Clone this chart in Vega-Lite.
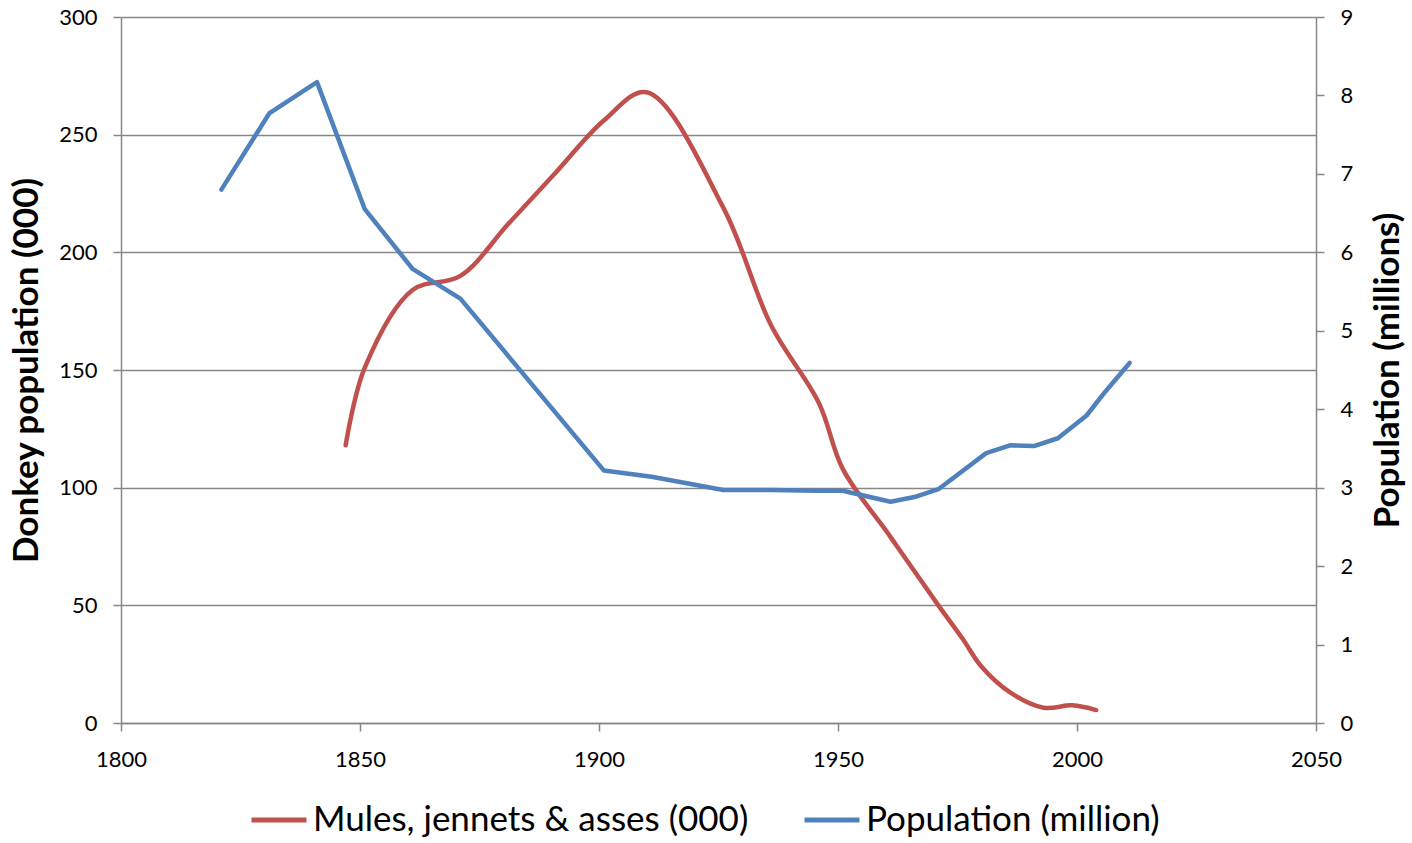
{
  "$schema": "https://vega.github.io/schema/vega-lite/v6.json",
  "autosize": {"type": "none"},
  "width": 1195,
  "height": 706,
  "padding": {"left": 121, "top": 17, "right": 96, "bottom": 120},
  "background": "white",
  "config": {
    "view": {"stroke": null},
    "font": "Lato",
    "axis": {
      "labelFont": "Lato",
      "labelFontSize": 22,
      "labelColor": "#000000",
      "titleFont": "Lato",
      "titleColor": "#000000",
      "domainColor": "#878787",
      "domainWidth": 1.5,
      "tickColor": "#878787",
      "tickWidth": 1.5,
      "tickSize": 8,
      "gridColor": "#878787",
      "gridWidth": 1.5
    },
    "legend": {
      "labelFont": "Lato",
      "labelFontSize": 35,
      "labelColor": "#000000",
      "labelLimit": 0
    }
  },
  "data": {
    "values": [
      {"series": "Mules, jennets & asses (000)", "year": 1847, "value": 118},
      {"series": "Mules, jennets & asses (000)", "year": 1851, "value": 151},
      {"series": "Mules, jennets & asses (000)", "year": 1861, "value": 184},
      {"series": "Mules, jennets & asses (000)", "year": 1871, "value": 190},
      {"series": "Mules, jennets & asses (000)", "year": 1881, "value": 212},
      {"series": "Mules, jennets & asses (000)", "year": 1891, "value": 234},
      {"series": "Mules, jennets & asses (000)", "year": 1901, "value": 256},
      {"series": "Mules, jennets & asses (000)", "year": 1910, "value": 268},
      {"series": "Mules, jennets & asses (000)", "year": 1926, "value": 219},
      {"series": "Mules, jennets & asses (000)", "year": 1936, "value": 169},
      {"series": "Mules, jennets & asses (000)", "year": 1946, "value": 136},
      {"series": "Mules, jennets & asses (000)", "year": 1951, "value": 108},
      {"series": "Mules, jennets & asses (000)", "year": 1961, "value": 79},
      {"series": "Mules, jennets & asses (000)", "year": 1971, "value": 50},
      {"series": "Mules, jennets & asses (000)", "year": 1976, "value": 36},
      {"series": "Mules, jennets & asses (000)", "year": 1980, "value": 24},
      {"series": "Mules, jennets & asses (000)", "year": 1986, "value": 13},
      {"series": "Mules, jennets & asses (000)", "year": 1993, "value": 6.5},
      {"series": "Mules, jennets & asses (000)", "year": 1999, "value": 7.5},
      {"series": "Mules, jennets & asses (000)", "year": 2004, "value": 5.5},
      {"series": "Population (million)", "year": 1821, "value": 6.80},
      {"series": "Population (million)", "year": 1831, "value": 7.77},
      {"series": "Population (million)", "year": 1841, "value": 8.17},
      {"series": "Population (million)", "year": 1851, "value": 6.55},
      {"series": "Population (million)", "year": 1861, "value": 5.79},
      {"series": "Population (million)", "year": 1871, "value": 5.41},
      {"series": "Population (million)", "year": 1901, "value": 3.22},
      {"series": "Population (million)", "year": 1911, "value": 3.14},
      {"series": "Population (million)", "year": 1926, "value": 2.97},
      {"series": "Population (million)", "year": 1936, "value": 2.97},
      {"series": "Population (million)", "year": 1946, "value": 2.96},
      {"series": "Population (million)", "year": 1951, "value": 2.96},
      {"series": "Population (million)", "year": 1961, "value": 2.82},
      {"series": "Population (million)", "year": 1966, "value": 2.88},
      {"series": "Population (million)", "year": 1971, "value": 2.98},
      {"series": "Population (million)", "year": 1981, "value": 3.44},
      {"series": "Population (million)", "year": 1986, "value": 3.54},
      {"series": "Population (million)", "year": 1991, "value": 3.53},
      {"series": "Population (million)", "year": 1996, "value": 3.63},
      {"series": "Population (million)", "year": 2002, "value": 3.92},
      {"series": "Population (million)", "year": 2006, "value": 4.23},
      {"series": "Population (million)", "year": 2011, "value": 4.59}
    ]
  },
  "encoding": {
    "x": {
      "field": "year",
      "type": "quantitative",
      "scale": {"domain": [1800, 2050], "nice": false, "zero": false},
      "axis": {
        "values": [1800, 1850, 1900, 1950, 2000, 2050],
        "format": "d",
        "title": null,
        "grid": false,
        "labelPadding": 18,
        "labelFlush": false
      }
    },
    "color": {
      "field": "series",
      "type": "nominal",
      "scale": {
        "domain": ["Mules, jennets & asses (000)", "Population (million)"],
        "range": ["#C0504D", "#4F81BD"]
      },
      "legend": {
        "title": null,
        "orient": "none",
        "direction": "horizontal",
        "legendX": 128,
        "legendY": 773,
        "padding": 0,
        "symbolType": "stroke",
        "symbolSize": 3025,
        "symbolStrokeWidth": 5,
        "labelOffset": 4,
        "columnPadding": 45,
        "labelLimit": 0
      }
    }
  },
  "layer": [
    {
      "transform": [{"filter": "datum.series === 'Mules, jennets & asses (000)'"}],
      "mark": {"type": "line", "interpolate": "catmull-rom", "strokeWidth": 4.5, "strokeCap": "round", "strokeJoin": "round"},
      "encoding": {
        "y": {
          "field": "value",
          "type": "quantitative",
          "scale": {"domain": [0, 300], "nice": false},
          "axis": {
            "orient": "left",
            "values": [0, 50, 100, 150, 200, 250, 300],
            "title": "Donkey population (000)",
            "titleFontSize": 35,
            "titleFontWeight": "bold",
            "titleAngle": 270,
            "titleX": -95,
            "titleY": 353,
            "titleAlign": "center",
            "titleBaseline": "middle",
            "labelPadding": 16,
            "grid": true
          }
        }
      }
    },
    {
      "transform": [{"filter": "datum.series === 'Population (million)'"}],
      "mark": {"type": "line", "strokeWidth": 4.5, "strokeCap": "round", "strokeJoin": "round"},
      "encoding": {
        "y": {
          "field": "value",
          "type": "quantitative",
          "scale": {"domain": [0, 9], "nice": false},
          "axis": {
            "orient": "right",
            "values": [0, 1, 2, 3, 4, 5, 6, 7, 8, 9],
            "title": "Population (millions)",
            "titleFontSize": 35,
            "titleFontWeight": "bold",
            "titleAngle": 270,
            "titleX": 71,
            "titleY": 353,
            "titleAlign": "center",
            "titleBaseline": "middle",
            "labelPadding": 16,
            "grid": false
          }
        }
      }
    }
  ],
  "resolve": {"scale": {"y": "independent"}}
}
